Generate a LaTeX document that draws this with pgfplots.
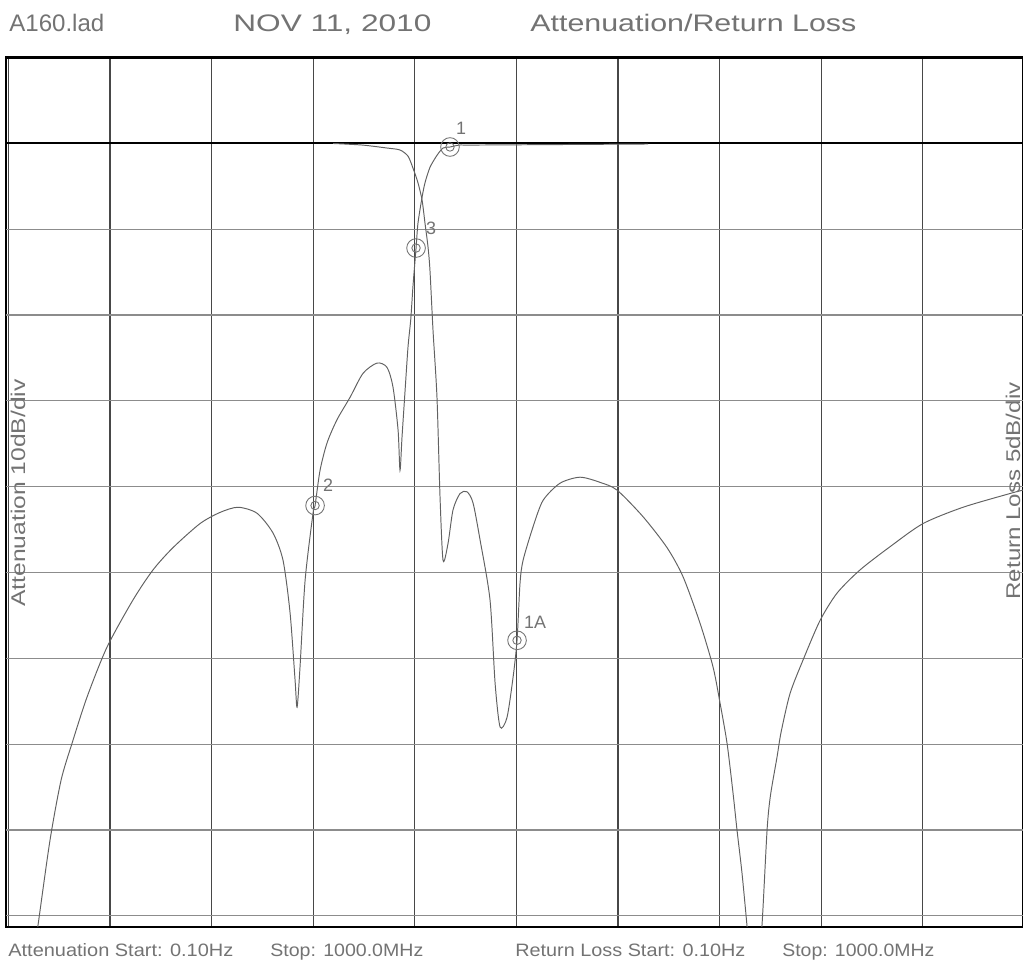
\documentclass[border=0pt]{standalone}
\usepackage{fontspec}
\setmainfont{Liberation Sans}
\usepackage{graphicx}
\usepackage{pgfplots}
\pgfplotsset{compat=1.18}
\definecolor{trace}{gray}{0.38}
\definecolor{txt}{gray}{0.45}
% stretch text to a given width, keep its height
\newcommand{\wide}[2]{\resizebox{#1}{\height}{#2}}

\begin{document}
\begin{tikzpicture}
\path[use as bounding box] (-0.12,-0.78) rectangle (20.34,18.54);
\begin{axis}[
    at={(0,0)}, anchor=south west,
    scale only axis,
    width=20.34cm, height=17.39cm,
    xmin=-2.4, xmax=998.6,
    ymin=-91.3, ymax=10,
    xtick={0,100,...,900}, xticklabels={},
    ytick=\empty,
    extra y ticks={-90,-80,...,-10}, extra y tick labels={},
    extra y tick style={ymajorgrids=true, major grid style={black!45, line width=0.7pt}},
    xmajorgrids,
    major grid style={black!72, line width=0.7pt},
    major tick length=0pt,
    axis line style={black, line width=1.3pt},
    clip mode=individual,
]

% 0 dB reference
\addplot[black, line width=1.2pt] coordinates {(-10,0) (1010,0)};

% trace 1 (rises into the passband from the left)
\addplot[trace, line width=0.55pt, smooth, tension=0.45] coordinates {
(24.2,-95.2) (29.1,-91.1) (40.9,-81.2) (51.8,-74.2) (62.6,-69.9) (77.4,-64.5)
(97.0,-58.7) (122.6,-53.2) (142.3,-49.7) (162.0,-47.1) (188.6,-44.3) (208.3,-43.0)
(226.0,-42.4) (244.7,-43.1) (260.4,-45.4) (270.3,-48.6) (277.2,-54.7) (282.1,-62.5)
(284.1,-65.7) (287.0,-61.0) (292.0,-50.9) (299.8,-43.1) (301.8,-42.2) (306.7,-38.1)
(313.6,-34.9) (323.4,-32.2) (336.2,-29.6) (349.0,-26.8) (362.8,-25.6) (372.6,-26.1)
(378.5,-28.4) (383.5,-33.4) (385.4,-38.1) (387.4,-34.2) (390.4,-28.8) (393.3,-23.7)
(396.0,-20.5) (398.2,-16.6) (401.2,-12.2) (403.1,-9.3) (407.1,-6.3) (410.0,-4.6)
(414.9,-2.8) (421.8,-1.4) (427.8,-0.55) (434.6,-0.43) (444.5,-0.20) (462.2,-0.20)
(629.5,-0.08)
};

% trace 2 (falls out of the passband to the right)
\addplot[trace, line width=0.55pt, smooth, tension=0.45] coordinates {
(319.5,-0.02) (348.0,-0.20) (372.6,-0.55) (385.4,-0.78) (393.3,-1.5) (398.2,-2.9)
(403.1,-4.6) (407.1,-6.6) (410.0,-9.3) (413.0,-12.1) (414.9,-14.8) (417.9,-21.8)
(421.8,-29.6) (424.8,-41.2) (427.8,-48.6) (432.7,-46.6) (437.6,-42.7) (444.5,-40.8)
(451.4,-40.6) (457.3,-41.9) (464.2,-46.2) (474.0,-53.2) (479.0,-62.9) (483.9,-68.0)
(490.7,-66.9) (496.7,-62.2) (500.6,-57.9) (503.5,-51.3) (506.5,-48.6) (516.3,-44.7)
(526.2,-41.6) (542.9,-39.6) (562.6,-38.9) (582.3,-39.5) (599.0,-40.4) (624.6,-43.5)
(648.2,-47.1) (664.0,-50.5) (680.7,-55.9) (693.5,-61.0) (700.4,-65.2) (707.3,-69.9)
(713.2,-75.7) (717.1,-80.0) (722.0,-85.0) (726.9,-91.1) (729.9,-95.2) (737.8,-95.2)
(741.7,-91.1) (746.7,-80.0) (750.0,-76.0) (756.5,-71.5) (760.5,-68.6) (769.3,-64.1)
(782.1,-60.2) (798.8,-55.6) (815.6,-52.4) (838.2,-49.7) (867.7,-47.0) (900.2,-44.3)
(939.6,-42.4) (985.8,-40.8) (998.6,-40.4)
};

% markers (double rings)
\addplot[only marks, mark=o, mark size=5.3pt, black!55, line width=0.5pt] coordinates {
(434.6,-0.43) (401.2,-12.2) (301.8,-42.2) (500.6,-57.9)};
\addplot[only marks, mark=o, mark size=2.4pt, black!55, line width=0.5pt] coordinates {
(434.6,-0.43) (401.2,-12.2) (301.8,-42.2) (500.6,-57.9)};

\begin{scope}[font=\fontsize{10.2}{12}\selectfont, text=txt]
\node at (axis cs:445.5,1.8) {1};
\node at (axis cs:416,-9.9) {3};
\node at (axis cs:314.6,-39.8) {2};
\node at (axis cs:518.3,-55.8) {1A};
\end{scope}
\end{axis}

% header
\begin{scope}[font=\fontsize{13.6}{16}\selectfont, text=txt]
\node[anchor=base west, inner sep=0pt] at (0.06,17.9) {\wide{1.9cm}{A160.lad}};
\node[anchor=base west, inner sep=0pt] at (4.54,17.9) {\wide{3.96cm}{NOV 11, 2010}};
\node[anchor=base west, inner sep=0pt] at (10.48,17.9) {\wide{6.52cm}{Attenuation/Return Loss}};
\end{scope}

% side labels
\begin{scope}[font=\fontsize{11.3}{13}\selectfont, text=txt]
\node[rotate=90, inner sep=0pt] at (0.24,8.68) {\wide{4.54cm}{Attenuation 10dB/div}};
\node[rotate=90, inner sep=0pt] at (20.14,8.72) {\wide{4.34cm}{Return Loss 5dB/div}};
\end{scope}

% footer
\begin{scope}[font=\fontsize{10.2}{12}\selectfont, text=txt]
\node[anchor=base west, inner sep=0pt] at (0.04,-0.6) {\wide{4.5cm}{Attenuation Start: 0.10Hz}};
\node[anchor=base west, inner sep=0pt] at (5.28,-0.6) {\wide{3.06cm}{Stop: 1000.0MHz}};
\node[anchor=base west, inner sep=0pt] at (10.18,-0.6) {\wide{4.6cm}{Return Loss Start: 0.10Hz}};
\node[anchor=base west, inner sep=0pt] at (15.52,-0.6) {\wide{3.04cm}{Stop: 1000.0MHz}};
\end{scope}
\end{tikzpicture}
\end{document}
